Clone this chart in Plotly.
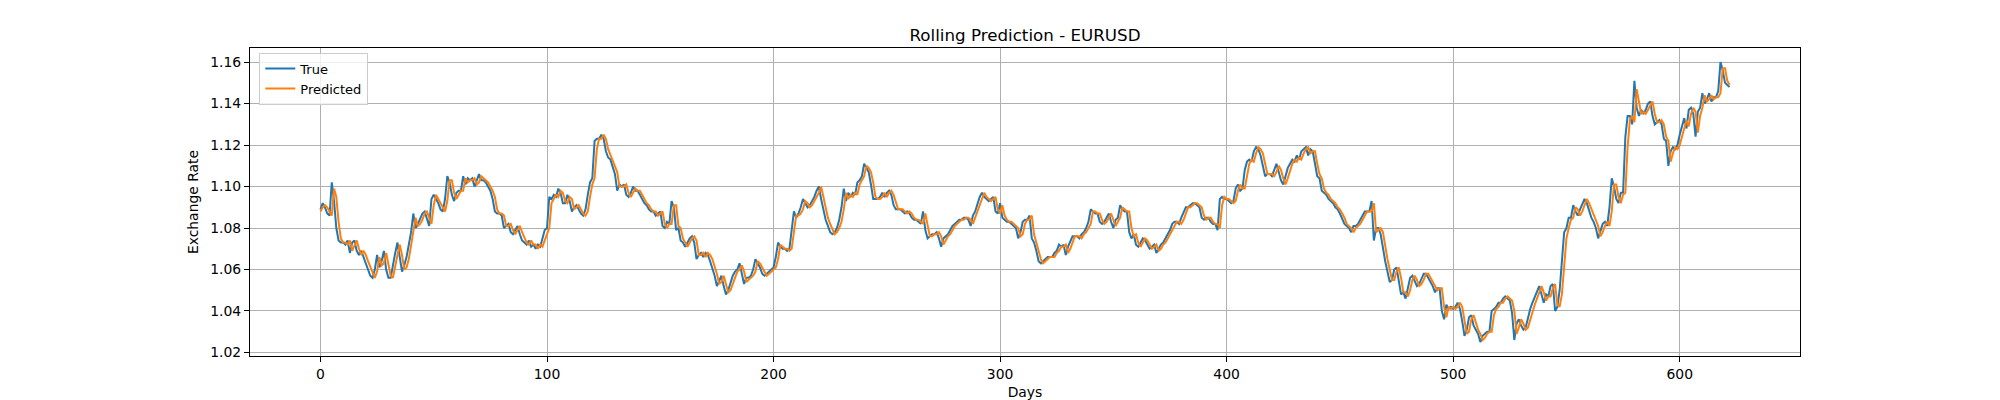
import plotly.graph_objects as go

# EURUSD rolling prediction (day 0..622)
true_rate = [
    1.089, 1.092, 1.090, 1.087, 1.086, 1.102, 1.093, 1.080, 1.074, 1.073,
    1.073, 1.072, 1.074, 1.068, 1.073, 1.074, 1.069, 1.067, 1.069, 1.066,
    1.063, 1.060, 1.057, 1.056, 1.060, 1.067, 1.061, 1.064, 1.069, 1.060,
    1.056, 1.056, 1.063, 1.068, 1.073, 1.065, 1.059, 1.062, 1.066, 1.072,
    1.078, 1.087, 1.080, 1.082, 1.085, 1.087, 1.088, 1.084, 1.081, 1.094,
    1.096, 1.094, 1.092, 1.089, 1.088, 1.094, 1.105, 1.102, 1.096, 1.093,
    1.097, 1.098, 1.098, 1.105, 1.101, 1.104, 1.103, 1.104, 1.100, 1.103,
    1.106, 1.103, 1.103, 1.102, 1.100, 1.098, 1.094, 1.088, 1.087, 1.087,
    1.086, 1.080, 1.081, 1.082, 1.078, 1.077, 1.079, 1.081, 1.077, 1.074,
    1.073, 1.072, 1.074, 1.071, 1.072, 1.070, 1.072, 1.071, 1.075, 1.079,
    1.080, 1.095, 1.094, 1.096, 1.095, 1.099, 1.097, 1.092, 1.092, 1.096,
    1.093, 1.088, 1.090, 1.091, 1.089, 1.087, 1.086, 1.089, 1.096, 1.102,
    1.104, 1.122, 1.123, 1.123, 1.125, 1.123, 1.117, 1.114, 1.113, 1.109,
    1.106, 1.098, 1.101, 1.100, 1.101, 1.096, 1.095, 1.097, 1.100, 1.098,
    1.098, 1.096, 1.094, 1.092, 1.091, 1.089, 1.088, 1.088, 1.086, 1.087,
    1.088, 1.081, 1.080, 1.083, 1.082, 1.093, 1.090, 1.079, 1.080, 1.074,
    1.073, 1.071, 1.073, 1.075, 1.076, 1.073, 1.065, 1.067, 1.068, 1.066,
    1.068, 1.067, 1.064, 1.061, 1.057, 1.052, 1.055, 1.057, 1.052, 1.048,
    1.050, 1.054, 1.057, 1.059, 1.060, 1.063, 1.058, 1.053, 1.056, 1.056,
    1.057, 1.060, 1.065, 1.063, 1.061, 1.058, 1.057, 1.058, 1.059, 1.060,
    1.061, 1.066, 1.073, 1.071, 1.070, 1.070, 1.069, 1.070, 1.080, 1.088,
    1.085, 1.087, 1.090, 1.094, 1.092, 1.090, 1.091, 1.093, 1.095, 1.098,
    1.100, 1.094, 1.089, 1.084, 1.081, 1.078, 1.077, 1.078, 1.080, 1.084,
    1.090, 1.099, 1.093, 1.097, 1.095, 1.097, 1.096, 1.102, 1.103, 1.105,
    1.111, 1.109, 1.107, 1.101, 1.094, 1.094, 1.094, 1.095, 1.097, 1.095,
    1.097, 1.098, 1.096, 1.091, 1.089, 1.089, 1.089, 1.088, 1.087, 1.088,
    1.087, 1.085, 1.084, 1.084, 1.083, 1.082, 1.088, 1.079, 1.075, 1.076,
    1.077, 1.077, 1.078, 1.075, 1.071, 1.075, 1.076, 1.077, 1.079, 1.081,
    1.082, 1.083, 1.084, 1.084, 1.085, 1.085, 1.084, 1.081, 1.086, 1.088,
    1.092, 1.095, 1.097, 1.095, 1.094, 1.093, 1.094, 1.095, 1.088, 1.087,
    1.092, 1.085, 1.084, 1.083, 1.083, 1.082, 1.081, 1.080, 1.075, 1.078,
    1.083, 1.084, 1.084, 1.086, 1.075, 1.073, 1.069, 1.064, 1.063, 1.064,
    1.065, 1.066, 1.066, 1.066, 1.068, 1.069, 1.072, 1.071, 1.072, 1.067,
    1.071, 1.074, 1.076, 1.076, 1.076, 1.075, 1.077, 1.078, 1.080, 1.083,
    1.089, 1.088, 1.087, 1.087, 1.083, 1.082, 1.083, 1.085, 1.087, 1.083,
    1.080, 1.084, 1.085, 1.091, 1.089, 1.088, 1.088, 1.078, 1.075, 1.077,
    1.072, 1.071, 1.073, 1.075, 1.074, 1.072, 1.070, 1.071, 1.072, 1.068,
    1.070, 1.072, 1.073, 1.075, 1.077, 1.079, 1.082, 1.083, 1.083, 1.082,
    1.085, 1.088, 1.090, 1.090, 1.091, 1.092, 1.092, 1.091, 1.090, 1.085,
    1.084, 1.085, 1.085, 1.083, 1.082, 1.082, 1.079, 1.094, 1.095, 1.094,
    1.094, 1.093, 1.092, 1.093, 1.099, 1.101, 1.098, 1.099, 1.108, 1.112,
    1.113, 1.112, 1.117, 1.119, 1.118, 1.115, 1.110, 1.105, 1.106, 1.106,
    1.105, 1.108, 1.111, 1.107, 1.103, 1.101, 1.105, 1.109, 1.111, 1.113,
    1.112, 1.115, 1.113, 1.117, 1.118, 1.119, 1.115, 1.118, 1.117, 1.110,
    1.105, 1.104, 1.098, 1.097, 1.096, 1.094, 1.093, 1.092, 1.090, 1.089,
    1.087, 1.084, 1.082, 1.081, 1.080, 1.078, 1.081, 1.081, 1.082, 1.084,
    1.086, 1.088, 1.088, 1.088, 1.093, 1.074, 1.080, 1.080, 1.077, 1.070,
    1.064, 1.059, 1.054, 1.055, 1.060, 1.061, 1.055, 1.048, 1.049, 1.046,
    1.051, 1.056, 1.057, 1.054, 1.052, 1.053, 1.056, 1.058, 1.058, 1.056,
    1.054, 1.052, 1.049, 1.051, 1.051, 1.040, 1.036, 1.043, 1.041, 1.042,
    1.041, 1.042, 1.044, 1.041, 1.035, 1.028, 1.031, 1.037, 1.038, 1.033,
    1.031, 1.029, 1.025, 1.028, 1.029, 1.030, 1.030, 1.040, 1.041, 1.042,
    1.044, 1.044, 1.046, 1.047, 1.046, 1.045, 1.039, 1.026, 1.034, 1.036,
    1.033, 1.031, 1.032, 1.037, 1.041, 1.044, 1.047, 1.050, 1.052, 1.048,
    1.044, 1.048, 1.047, 1.052, 1.053, 1.040, 1.042, 1.050, 1.062, 1.078,
    1.080, 1.085, 1.085, 1.091, 1.088, 1.086, 1.089, 1.092, 1.094, 1.092,
    1.088, 1.085, 1.083, 1.080, 1.075, 1.079, 1.082, 1.083, 1.081, 1.090,
    1.104, 1.100, 1.094, 1.092, 1.097, 1.097, 1.124, 1.134, 1.134, 1.130,
    1.151, 1.138, 1.134, 1.137, 1.135, 1.137, 1.140, 1.141, 1.134, 1.130,
    1.131, 1.132, 1.130, 1.123, 1.122, 1.110, 1.117, 1.119, 1.118, 1.120,
    1.125, 1.129, 1.133, 1.128, 1.137, 1.138, 1.135, 1.124, 1.136, 1.138,
    1.145, 1.140, 1.142, 1.145, 1.141, 1.143, 1.143, 1.146, 1.160, 1.156,
    1.150, 1.149, 1.148,
]

predicted_rate = [
    1.088, 1.090, 1.091, 1.090, 1.088, 1.086, 1.099, 1.095, 1.083, 1.075,
    1.073, 1.073, 1.072, 1.074, 1.069, 1.072, 1.074, 1.070, 1.067, 1.069,
    1.067, 1.064, 1.061, 1.058, 1.056, 1.059, 1.066, 1.062, 1.063, 1.068,
    1.062, 1.057, 1.056, 1.062, 1.067, 1.072, 1.067, 1.060, 1.061, 1.065,
    1.071, 1.077, 1.085, 1.081, 1.082, 1.084, 1.087, 1.088, 1.085, 1.082,
    1.091, 1.096, 1.094, 1.092, 1.090, 1.088, 1.093, 1.103, 1.103, 1.097,
    1.094, 1.096, 1.098, 1.098, 1.104, 1.102, 1.103, 1.103, 1.104, 1.101,
    1.102, 1.105, 1.104, 1.103, 1.102, 1.100, 1.098, 1.095, 1.089, 1.087,
    1.087, 1.086, 1.081, 1.081, 1.082, 1.079, 1.077, 1.079, 1.081, 1.078,
    1.075, 1.073, 1.072, 1.074, 1.072, 1.072, 1.070, 1.072, 1.071, 1.074,
    1.078, 1.080, 1.092, 1.094, 1.096, 1.095, 1.098, 1.097, 1.093, 1.092,
    1.095, 1.094, 1.089, 1.090, 1.091, 1.089, 1.087, 1.086, 1.088, 1.095,
    1.101, 1.104, 1.118, 1.123, 1.123, 1.125, 1.123, 1.118, 1.115, 1.113,
    1.110, 1.107, 1.100, 1.100, 1.100, 1.101, 1.097, 1.095, 1.097, 1.099,
    1.098, 1.098, 1.096, 1.094, 1.092, 1.091, 1.089, 1.088, 1.088, 1.086,
    1.087, 1.088, 1.082, 1.080, 1.082, 1.082, 1.091, 1.091, 1.081, 1.080,
    1.075, 1.073, 1.071, 1.073, 1.075, 1.076, 1.074, 1.067, 1.067, 1.068,
    1.066, 1.068, 1.067, 1.065, 1.062, 1.058, 1.053, 1.054, 1.057, 1.053,
    1.049, 1.050, 1.053, 1.056, 1.059, 1.060, 1.062, 1.059, 1.054, 1.055,
    1.056, 1.057, 1.059, 1.064, 1.063, 1.061, 1.059, 1.057, 1.058, 1.059,
    1.060, 1.061, 1.065, 1.072, 1.071, 1.070, 1.070, 1.069, 1.070, 1.078,
    1.086, 1.086, 1.087, 1.089, 1.093, 1.092, 1.090, 1.091, 1.093, 1.095,
    1.097, 1.100, 1.095, 1.090, 1.085, 1.082, 1.079, 1.077, 1.078, 1.080,
    1.083, 1.089, 1.097, 1.094, 1.096, 1.095, 1.097, 1.096, 1.101, 1.103,
    1.105, 1.110, 1.109, 1.107, 1.102, 1.095, 1.094, 1.094, 1.095, 1.097,
    1.095, 1.097, 1.098, 1.096, 1.092, 1.089, 1.089, 1.089, 1.088, 1.087,
    1.088, 1.087, 1.085, 1.084, 1.084, 1.083, 1.082, 1.087, 1.081, 1.076,
    1.076, 1.077, 1.077, 1.078, 1.076, 1.072, 1.074, 1.076, 1.077, 1.079,
    1.081, 1.082, 1.083, 1.084, 1.084, 1.085, 1.085, 1.084, 1.082, 1.085,
    1.088, 1.091, 1.094, 1.097, 1.095, 1.094, 1.093, 1.094, 1.095, 1.089,
    1.087, 1.091, 1.086, 1.084, 1.083, 1.083, 1.082, 1.081, 1.080, 1.076,
    1.077, 1.082, 1.084, 1.084, 1.086, 1.077, 1.073, 1.070, 1.065, 1.063,
    1.064, 1.065, 1.066, 1.066, 1.066, 1.068, 1.069, 1.071, 1.071, 1.072,
    1.068, 1.070, 1.073, 1.076, 1.076, 1.076, 1.075, 1.077, 1.078, 1.080,
    1.082, 1.088, 1.088, 1.087, 1.087, 1.084, 1.082, 1.083, 1.085, 1.087,
    1.084, 1.081, 1.083, 1.085, 1.090, 1.089, 1.088, 1.088, 1.080, 1.076,
    1.077, 1.073, 1.071, 1.073, 1.075, 1.074, 1.072, 1.070, 1.071, 1.072,
    1.069, 1.070, 1.072, 1.073, 1.075, 1.077, 1.079, 1.081, 1.083, 1.083,
    1.082, 1.084, 1.087, 1.090, 1.090, 1.091, 1.092, 1.092, 1.091, 1.090,
    1.086, 1.084, 1.085, 1.085, 1.083, 1.082, 1.082, 1.080, 1.091, 1.095,
    1.094, 1.094, 1.093, 1.092, 1.093, 1.098, 1.101, 1.099, 1.099, 1.106,
    1.111, 1.113, 1.112, 1.116, 1.119, 1.118, 1.116, 1.111, 1.106, 1.106,
    1.106, 1.105, 1.107, 1.110, 1.108, 1.104, 1.101, 1.104, 1.108, 1.111,
    1.113, 1.112, 1.114, 1.113, 1.116, 1.118, 1.119, 1.116, 1.117, 1.117,
    1.111, 1.106, 1.104, 1.099, 1.097, 1.096, 1.094, 1.093, 1.092, 1.090,
    1.089, 1.087, 1.085, 1.082, 1.081, 1.080, 1.078, 1.080, 1.081, 1.082,
    1.084, 1.086, 1.088, 1.088, 1.088, 1.092, 1.078, 1.079, 1.080, 1.078,
    1.071, 1.065, 1.060, 1.055, 1.055, 1.059, 1.061, 1.056, 1.049, 1.049,
    1.047, 1.050, 1.055, 1.057, 1.055, 1.052, 1.053, 1.055, 1.058, 1.058,
    1.056, 1.054, 1.052, 1.050, 1.051, 1.051, 1.042, 1.037, 1.042, 1.041,
    1.042, 1.041, 1.042, 1.044, 1.042, 1.036, 1.029, 1.030, 1.036, 1.038,
    1.034, 1.031, 1.029, 1.026, 1.027, 1.029, 1.030, 1.030, 1.038, 1.041,
    1.042, 1.044, 1.044, 1.046, 1.047, 1.046, 1.045, 1.040, 1.029, 1.032,
    1.036, 1.034, 1.031, 1.032, 1.036, 1.040, 1.043, 1.046, 1.049, 1.052,
    1.049, 1.045, 1.047, 1.047, 1.051, 1.053, 1.043, 1.042, 1.048, 1.060,
    1.075, 1.080, 1.084, 1.085, 1.090, 1.089, 1.086, 1.088, 1.091, 1.094,
    1.092, 1.089, 1.086, 1.083, 1.081, 1.076, 1.078, 1.081, 1.083, 1.081,
    1.088, 1.101, 1.101, 1.095, 1.092, 1.096, 1.097, 1.119, 1.132, 1.134,
    1.131, 1.147, 1.141, 1.135, 1.136, 1.135, 1.137, 1.139, 1.141, 1.135,
    1.131, 1.131, 1.132, 1.130, 1.124, 1.122, 1.112, 1.116, 1.119, 1.118,
    1.120, 1.124, 1.128, 1.132, 1.129, 1.135, 1.138, 1.136, 1.126, 1.134,
    1.138, 1.144, 1.141, 1.142, 1.144, 1.142, 1.143, 1.143, 1.145, 1.157,
    1.157, 1.151, 1.149,
]

days = list(range(len(true_rate)))

x_ticks = [0, 100, 200, 300, 400, 500, 600]
y_ticks = [1.02, 1.04, 1.06, 1.08, 1.10, 1.12, 1.14, 1.16]

font = dict(family="DejaVu Sans", size=13.9, color="black")

fig = go.Figure()
fig.add_trace(go.Scatter(x=days, y=true_rate, mode="lines", name="True",
                         line=dict(color="#1f77b4", width=2)))
fig.add_trace(go.Scatter(x=days, y=predicted_rate, mode="lines", name="Predicted",
                         line=dict(color="#ff7f0e", width=2)))

axis_style = dict(showline=True, linecolor="black", linewidth=1.1, mirror=True,
                  ticks="outside", ticklen=5, tickwidth=1.1, tickcolor="black",
                  showgrid=True, gridcolor="#b0b0b0", gridwidth=1.1,
                  zeroline=False, automargin=False, tickfont=font)

fig.update_layout(
    width=2000, height=400,
    margin=dict(l=250, r=200, t=48, b=44),
    paper_bgcolor="white", plot_bgcolor="white",
    font=font,
    title=dict(text="Rolling Prediction - EURUSD", x=0.5, xref="paper", xanchor="center",
               y=1, yref="paper", yanchor="bottom", pad=dict(b=7),
               font=dict(family="DejaVu Sans", size=16.7, color="black")),
    xaxis=dict(range=[-31.1, 653.1], tickvals=x_ticks,
               title=dict(text="Days", standoff=6, font=font), **axis_style),
    yaxis=dict(range=[1.0183, 1.1668], tickvals=y_ticks, tickformat=".2f",
               title=dict(text="Exchange Rate", standoff=8, font=font), **axis_style),
    legend=dict(x=0.006, y=0.985, xanchor="left", yanchor="top",
                bgcolor="rgba(255,255,255,0.8)", bordercolor="#cccccc", borderwidth=1,
                font=dict(family="DejaVu Sans", size=13, color="black"), tracegroupgap=0),
    showlegend=True,
)

# drop the browser's default 8px body margin so the figure sits at the page origin
fig.write_html("out.html", config={"displayModeBar": False},
               post_script="document.body.style.margin='0';document.body.style.overflow='hidden';")
